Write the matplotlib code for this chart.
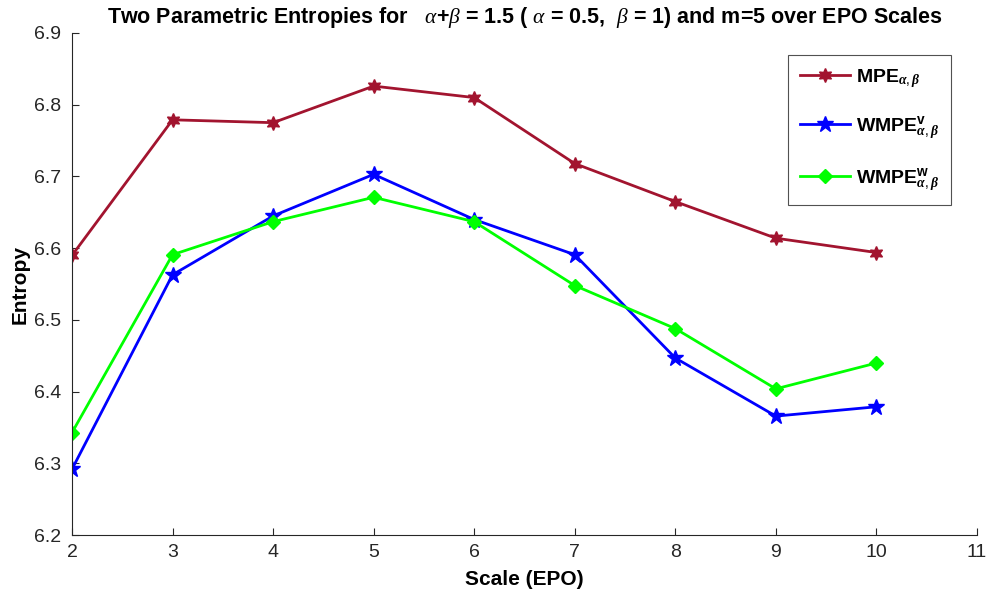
import matplotlib
matplotlib.use('Agg')
import matplotlib.pyplot as plt

plt.rcParams['font.family'] = ['Liberation Sans', 'DejaVu Sans']
plt.rcParams['mathtext.fontset'] = 'custom'
plt.rcParams['mathtext.rm'] = 'Liberation Sans'
plt.rcParams['mathtext.it'] = 'Liberation Serif:italic'
plt.rcParams['mathtext.bf'] = 'Liberation Sans:bold'
plt.rcParams['mathtext.bfit'] = 'Liberation Serif:bold:italic'

scales = [2, 3, 4, 5, 6, 7, 8, 9, 10]
mpe = [6.590, 6.779, 6.775, 6.826, 6.810, 6.718, 6.665, 6.614, 6.594]
wmpe_v = [6.292, 6.563, 6.645, 6.703, 6.640, 6.591, 6.447, 6.366, 6.379]
wmpe_w = [6.343, 6.591, 6.637, 6.671, 6.637, 6.548, 6.488, 6.404, 6.440]

x_ticks = [2, 3, 4, 5, 6, 7, 8, 9, 10, 11]
y_ticks = [6.2, 6.3, 6.4, 6.5, 6.6, 6.7, 6.8, 6.9]

fig = plt.figure(figsize=(9.89, 6.0), dpi=100)
ax = fig.add_axes([0.0728, 0.108, 0.915, 0.837])

ax.plot(scales, mpe, color='#A2142F', lw=2, marker=(6, 1, 0), ms=10,
        label=r'MPE$_{\boldsymbol{\alpha,\beta}}$')
ax.plot(scales, wmpe_v, color='#0000FF', lw=2, marker='*', ms=12,
        label=r'WMPE$^{\mathbf{v}}_{\boldsymbol{\alpha,\beta}}$')
ax.plot(scales, wmpe_w, color='#00FF00', lw=2, marker='D', ms=7,
        label=r'WMPE$^{\mathbf{w}}_{\boldsymbol{\alpha,\beta}}$')

ax.set_xlim(2, 11)
ax.set_ylim(6.2, 6.9)
ax.set_xticks(x_ticks)
ax.set_yticks(y_ticks)
ax.set_yticklabels([f'{v:.1f}' for v in y_ticks])

for s in ['top', 'right']:
    ax.spines[s].set_visible(False)
for s in ['left', 'bottom']:
    ax.spines[s].set_color('#262626')
    ax.spines[s].set_linewidth(0.8)
ax.tick_params(direction='in', length=5, labelsize=14, colors='#262626',
               width=0.8, pad=6)
ax.tick_params(axis='y', pad=8)

ax.set_xlabel('Scale (EPO)', fontsize=15, fontweight='bold', labelpad=7)
ax.set_ylabel('Entropy', fontsize=15, fontweight='bold', labelpad=3)
ax.set_title(r'Two Parametric Entropies for   $\alpha$+$\beta$ = 1.5 ( $\alpha$ = 0.5,  $\beta$ = 1) and m=5 over EPO Scales',
             fontsize=15.5, fontweight='bold', pad=7)

leg = ax.legend(loc='upper right', bbox_to_anchor=(0.971, 0.956),
                prop={'weight': 'bold', 'size': 14}, frameon=True, fancybox=False,
                edgecolor='#262626', labelspacing=1.25, handlelength=2.6,
                borderpad=0.6, borderaxespad=0, handletextpad=0.3)
leg.get_frame().set_linewidth(0.8)

fig.savefig('out.png', dpi=100)
